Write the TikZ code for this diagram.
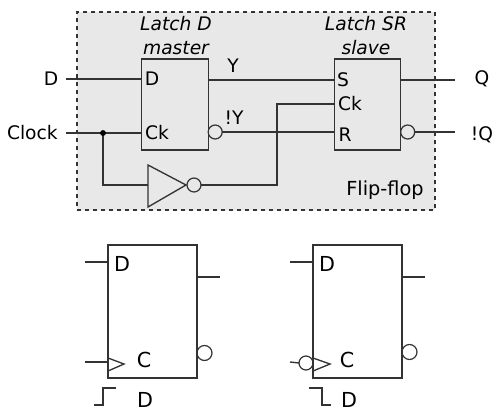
\documentclass[tikz,border=0pt]{standalone}
\usepackage{fontspec}
\setmainfont{DejaVu Sans}
\definecolor{wirecol}{HTML}{333333}
\definecolor{panelcol}{HTML}{E8E8E8}
\tikzset{
  wire/.style={draw=wirecol, line width=1pt},
  latchbox/.style={draw=wirecol, line width=1pt, inner sep=0pt, outer sep=0pt,
    minimum width=49.8pt, minimum height=68.25pt},
  ffbox/.style={draw=wirecol, line width=1pt, inner sep=0pt, outer sep=0pt,
    minimum width=66.75pt, minimum height=99.75pt},
  bubble/.style={circle, draw=wirecol, line width=0.9pt, inner sep=0pt, outer sep=0pt,
    minimum size=10.5pt},
  bigbubble/.style={bubble, minimum size=11.25pt},
  lbl/.style={font=\fontsize{14pt}{15pt}\selectfont, text=black, inner sep=0pt},
  biglbl/.style={lbl, font=\fontsize{15.5pt}{15pt}\selectfont},
  title/.style={lbl, font=\fontsize{14pt}{15pt}\selectfont\itshape}
}
\begin{document}
\begin{tikzpicture}[x=0.75pt, y=-0.75pt]
  \useasboundingbox (0,0) rectangle (501,411);

  % --- flip-flop panel ---
  \node (panel) [draw=wirecol, dashed, line width=0.8pt, fill=panelcol, minimum width=268.5pt,
    minimum height=148.5pt, inner sep=0pt, outer sep=0pt] at (256,111) {};
  \node (master) [latchbox] at (175,104.5) {};
  \node (slave) [latchbox] at (367.5,104.5) {};
  \node (mastertop) [title] at (176,24) {Latch D};
  \node (masterbot) [title] at (176,48) {master};
  \node (slavetop) [title] at (366,24) {Latch SR};
  \node (slavebot) [title] at (366,48) {slave};
  \node (fflabel) [lbl, font=\fontsize{14.5pt}{15pt}\selectfont] at (385,190) {Flip-flop};

  % pins
  \node (mD) [lbl] at (152,79) {D};
  \node (mCk) [lbl] at (157,133) {Ck};
  \node (sS) [lbl] at (343,80) {S};
  \node (sCk) [lbl] at (350,104) {Ck};
  \node (sR) [lbl] at (345,135) {R};

  % outer labels
  \node (Dlbl) [lbl] at (51,79) {D};
  \node (Clklbl) [lbl, anchor=east] at (58,133) {Clock};
  \node (Ylbl) [lbl] at (233,66) {Y};
  \node (nYlbl) [lbl] at (234,118) {!Y};
  \node (Qlbl) [lbl] at (482,79) {Q};
  \node (nQlbl) [lbl] at (482,135) {!Q};

  % bubbles
  \node (mbub) [bubble, anchor=west] at (master.east |- 0,132) {};
  \node (sbub) [bubble, anchor=west] at (slave.east |- 0,132) {};
  \node (invbub) [bubble, anchor=west] at (187,185) {};

  \coordinate (Din) at (66,79);
  \coordinate (Clkin) at (66,133);
  \coordinate (Qout) at (455,80);
  \coordinate (nQout) at (455,132);
  \coordinate (split) at (103,133);
  \coordinate (invin) at (148,185);
  \coordinate (invtip) at (186,185);
  \coordinate (turn) at (277,185);

  \draw[wire] (Din) -- (master.west |- Din);
  \draw[wire] (Clkin) -- (master.west |- Clkin);
  \draw[wire] (master.east |- 0,80) -- (slave.west |- 0,80);
  \draw[wire] (mbub.east) -- (slave.west |- mbub.east);
  \draw[wire] (slave.east |- Qout) -- (Qout);
  \draw[wire] (sbub.east) -- (nQout);
  \draw[wire] (split) |- (invin);
  \draw[wire] (invbub.east) -- (turn) |- (slave.west |- 0,104);
  \fill[black] (split) circle (2.2pt);

  % inverter
  \draw[wire] (148,165) -- (148,207) -- (invtip) -- cycle;

  % --- rising edge flip-flop ---
  \node (ffa) [ffbox] at (152.5,311.5) {};
  \node (faD) [biglbl] at (122,264) {D};
  \node (faC) [biglbl] at (144,360) {C};
  \node (fabub) [bigbubble, anchor=west] at (ffa.east |- 0,353) {};
  \node (faedge) [biglbl] at (145,400) {D};
  \draw[wire] (85,262) -- (ffa.west |- 0,262);
  \draw[wire] (ffa.east |- 0,277) -- (220,277);
  \draw[wire] (85,362) -- (ffa.west |- 0,362);
  \draw[wire] (ffa.west |- 0,358) -- (124,364) -- (ffa.west |- 0,371) -- cycle;
  \draw[wire] (94,405) -- (103,405) -- (103,388) -- (116,388);

  % --- falling edge flip-flop ---
  \node (ffb) [ffbox] at (357.5,311.5) {};
  \node (fbD) [biglbl] at (327,264) {D};
  \node (fbC) [biglbl] at (347,360) {C};
  \node (fbbub) [bigbubble, anchor=west] at (ffb.east |- 0,352) {};
  \node (fbclk) [bubble, anchor=east] at (ffb.west |- 0,363) {};
  \node (fbedge) [biglbl] at (349,400) {D};
  \draw[wire] (290,362) -- (fbclk.west);
  \draw[wire] (290,262) -- (ffb.west |- 0,262);
  \draw[wire] (ffb.east |- 0,277) -- (425,277);
  \draw[wire] (ffb.west |- 0,358) -- (330,364) -- (ffb.west |- 0,371) -- cycle;
  \draw[wire] (309,388) -- (322,388) -- (322,405) -- (331,405);
\end{tikzpicture}
\end{document}
